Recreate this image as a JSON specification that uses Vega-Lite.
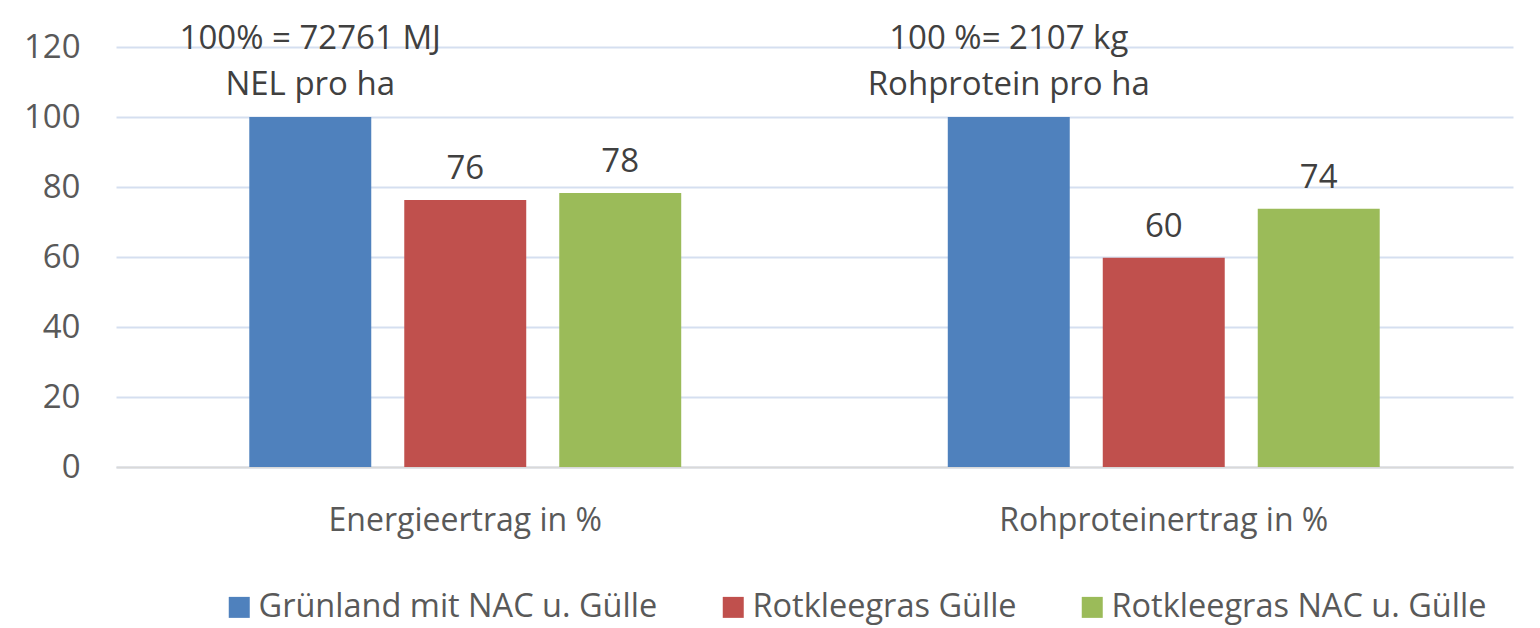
{
  "$schema": "https://vega.github.io/schema/vega-lite/v6.json",
  "width": 1397,
  "height": 420,
  "autosize": {"type": "none"},
  "padding": {"left": 116, "top": 47, "right": 27, "bottom": 161},
  "background": "white",
  "config": {
    "font": "Open Sans",
    "view": {"stroke": null}
  },
  "data": {
    "values": [
      {"kategorie": "Energieertrag in %", "serie": "Grünland mit NAC u. Gülle", "wert": 100, "label": "", "note": "100% = 72761 MJ\nNEL pro ha"},
      {"kategorie": "Energieertrag in %", "serie": "Rotkleegras Gülle", "wert": 76.3, "label": "76", "note": ""},
      {"kategorie": "Energieertrag in %", "serie": "Rotkleegras NAC u. Gülle", "wert": 78.3, "label": "78", "note": ""},
      {"kategorie": "Rohproteinertrag in %", "serie": "Grünland mit NAC u. Gülle", "wert": 100, "label": "", "note": "100 %= 2107 kg\nRohprotein pro ha"},
      {"kategorie": "Rohproteinertrag in %", "serie": "Rotkleegras Gülle", "wert": 59.8, "label": "60", "note": ""},
      {"kategorie": "Rohproteinertrag in %", "serie": "Rotkleegras NAC u. Gülle", "wert": 73.8, "label": "74", "note": ""}
    ]
  },
  "encoding": {
    "x": {
      "field": "kategorie", "type": "nominal", "sort": null,
      "scale": {"paddingInner": 0, "paddingOuter": 0},
      "axis": {
        "title": null, "labelAngle": 0, "ticks": false,
        "domainColor": "#d9d9d9", "domainWidth": 2,
        "labelFont": "Open Sans", "labelFontSize": 32, "labelColor": "#595959",
        "labelPadding": 38, "labelLimit": 800
      }
    },
    "xOffset": {
      "field": "serie", "type": "nominal", "sort": null,
      "scale": {"paddingInner": 0.213, "paddingOuter": 0.86}
    },
    "y": {
      "field": "wert", "type": "quantitative",
      "scale": {"domain": [0, 120], "nice": false},
      "axis": {
        "title": null, "values": [0, 20, 40, 60, 80, 100, 120],
        "domain": false, "ticks": false,
        "gridColor": "#d5dff0", "gridWidth": 2,
        "labelFont": "Open Sans", "labelFontSize": 33, "labelColor": "#595959",
        "labelPadding": 36
      }
    }
  },
  "layer": [
    {
      "mark": {"type": "bar"},
      "encoding": {
        "color": {
          "field": "serie", "type": "nominal", "sort": null,
          "scale": {
            "domain": ["Grünland mit NAC u. Gülle", "Rotkleegras Gülle", "Rotkleegras NAC u. Gülle"],
            "range": ["#4f81bd", "#c0504d", "#9bbb59"]
          },
          "legend": {
            "title": null, "orient": "none", "direction": "horizontal", "columns": 3,
            "legendX": 107, "legendY": 544, "padding": 0,
            "symbolType": "square", "symbolSize": 441, "symbolStrokeWidth": 0,
            "labelFont": "Open Sans", "labelFontSize": 32.5, "labelColor": "#595959",
            "labelOffset": 3, "columnPadding": 59, "labelLimit": 600
          }
        }
      }
    },
    {
      "transform": [{"filter": "datum.label != ''"}],
      "mark": {"type": "text", "font": "Open Sans", "fontSize": 33, "color": "#404040", "baseline": "alphabetic", "dy": -21},
      "encoding": {"text": {"field": "label"}}
    },
    {
      "transform": [{"filter": "datum.note != ''"}],
      "mark": {"type": "text", "font": "Open Sans", "fontSize": 33, "color": "#404040", "baseline": "alphabetic", "lineBreak": "\n", "lineHeight": 46, "dy": -68},
      "encoding": {"text": {"field": "note"}}
    }
  ]
}
